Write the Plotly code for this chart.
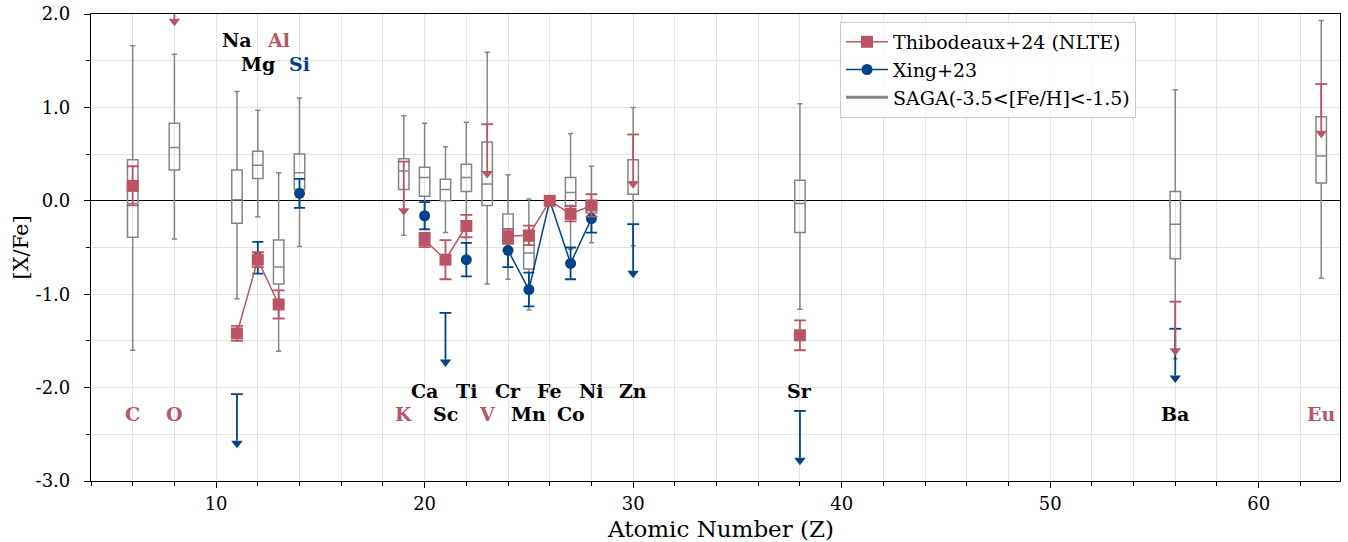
import plotly.graph_objects as go

# ---------------- data ----------------
elements = ['C', 'O', 'Na', 'Mg', 'Al', 'Si', 'K', 'Ca', 'Sc', 'Ti', 'V',
            'Cr', 'Mn', 'Fe', 'Co', 'Ni', 'Zn', 'Sr', 'Ba', 'Eu']
Z = [6, 8, 11, 12, 13, 14, 19, 20, 21, 22, 23, 24, 25, 26, 27, 28, 30, 38, 56, 63]

# Thibodeaux+24 (NLTE) detections
thib_el = ['C', 'Na', 'Mg', 'Al', 'Ca', 'Sc', 'Ti', 'Cr', 'Mn', 'Fe', 'Co', 'Ni', 'Sr']
thib_val = [0.16, -1.42, -0.63, -1.11, -0.42, -0.63, -0.27, -0.38, -0.37, 0.00, -0.14, -0.05, -1.44]
thib_err = [0.21, 0.08, 0.08, 0.15, 0.075, 0.21, 0.12, 0.08, 0.105, 0.00, 0.08, 0.12, 0.16]
# Thibodeaux+24 upper limits
thib_ul_el = ['O', 'K', 'V', 'Zn', 'Ba', 'Eu']
thib_ul_val = [2.45, 0.42, 0.82, 0.71, -1.08, 1.25]

# Xing+23 detections
xing_el = ['Mg', 'Si', 'Ca', 'Ti', 'Cr', 'Mn', 'Fe', 'Co', 'Ni']
xing_val = [-0.61, 0.08, -0.16, -0.63, -0.53, -0.95, 0.00, -0.67, -0.19]
xing_err = [0.17, 0.155, 0.145, 0.18, 0.18, 0.18, 0.00, 0.17, 0.15]
# Xing+23 upper limits
xing_ul_el = ['Na', 'Sc', 'Zn', 'Sr', 'Ba']
xing_ul_val = [-2.07, -1.20, -0.25, -2.25, -1.37]

# SAGA (-3.5<[Fe/H]<-1.5) distribution summary
saga_el = ['C', 'O', 'Na', 'Mg', 'Al', 'Si', 'K', 'Ca', 'Sc', 'Ti', 'V',
           'Cr', 'Mn', 'Co', 'Ni', 'Zn', 'Sr', 'Ba', 'Eu']
saga_low = [-1.60, -0.41, -1.05, -0.17, -1.61, -0.49, -0.37, -0.30, -0.34, -0.45, -0.89,
            -0.84, -1.17, -0.52, -0.45, -0.48, -1.16, -1.69, -0.83]
saga_q1 = [-0.39, 0.33, -0.24, 0.24, -0.89, 0.12, 0.12, 0.05, 0.00, 0.10, -0.05,
           -0.45, -0.73, -0.05, -0.13, 0.07, -0.34, -0.62, 0.19]
saga_med = [-0.03, 0.57, 0.01, 0.38, -0.71, 0.30, 0.32, 0.25, 0.12, 0.25, 0.18,
            -0.30, -0.56, 0.09, -0.06, 0.20, -0.03, -0.25, 0.48]
saga_q3 = [0.44, 0.83, 0.33, 0.53, -0.42, 0.50, 0.45, 0.36, 0.23, 0.39, 0.63,
           -0.14, -0.43, 0.25, -0.01, 0.44, 0.22, 0.10, 0.90]
saga_high = [1.66, 1.57, 1.17, 0.97, 0.30, 1.10, 0.91, 0.83, 0.58, 0.84, 1.59,
             0.28, 0.02, 0.72, 0.37, 1.00, 1.04, 1.19, 1.93]

x_ticks = [10, 20, 30, 40, 50, 60]
x_tick_labels = ['10', '20', '30', '40', '50', '60']
y_ticks = [-3, -2, -1, 0, 1, 2]
y_tick_labels = ['-3.0', '-2.0', '-1.0', '0.0', '1.0', '2.0']

# ---------------- styles / layout constants ----------------
RED = '#BB5566'
BLUE = '#004488'
GRAY = '#858585'
FONT = 'DejaVu Serif'
X_RANGE = [4.0, 63.9]
Y_RANGE = [-3.0, 2.0]
PLOT_H_PX = 467
ARROW_LEN = 0.5
TRI_SIZE = 10

zmap = dict(zip(elements, Z))


def full_series(els, vals, errs):
    """Series over every integer Z so that lines break at missing elements."""
    d = {zmap[e]: (v, er) for e, v, er in zip(els, vals, errs)}
    xs = list(range(min(Z), max(Z) + 1))
    ys = [d[z][0] if z in d else None for z in xs]
    es = [d[z][1] if z in d else 0 for z in xs]
    return xs, ys, es


fig = go.Figure()

# SAGA boxes
fig.add_trace(go.Box(
    x=[zmap[e] for e in saga_el], q1=saga_q1, median=saga_med, q3=saga_q3,
    lowerfence=saga_low, upperfence=saga_high,
    width=0.5, whiskerwidth=0.5, boxpoints=False,
    line=dict(color=GRAY, width=1.5), fillcolor='rgba(0,0,0,0)',
    showlegend=False, hoverinfo='skip'))
fig.add_trace(go.Scatter(x=[None], y=[None], mode='lines', line=dict(color=GRAY, width=3),
                         name='SAGA(-3.5<[Fe/H]<-1.5)', legendrank=3))


def add_limits(els, vals, color):
    zs = [zmap[e] for e in els]
    sx, sy = [], []
    for z, v in zip(zs, vals):
        sx += [z, z, None]
        sy += [v, v - ARROW_LEN, None]
    fig.add_trace(go.Scatter(x=sx, y=sy, mode='lines', line=dict(color=color, width=1.8),
                             showlegend=False, hoverinfo='skip'))
    fig.add_trace(go.Scatter(x=zs, y=vals, mode='markers',
                             marker=dict(symbol='line-ew', size=8.5,
                                         line=dict(color=color, width=1.8)),
                             showlegend=False, hoverinfo='skip'))
    off = (TRI_SIZE / 4.0) * (Y_RANGE[1] - Y_RANGE[0]) / PLOT_H_PX
    fig.add_trace(go.Scatter(x=zs, y=[v - ARROW_LEN - off for v in vals], mode='markers',
                             marker=dict(symbol='triangle-down', size=TRI_SIZE, color=color,
                                         line=dict(width=0)),
                             showlegend=False, hoverinfo='skip'))


# Xing+23
add_limits(xing_ul_el, xing_ul_val, BLUE)
xs, ys, es = full_series(xing_el, xing_val, xing_err)
fig.add_trace(go.Scatter(
    x=xs, y=ys, mode='lines+markers', connectgaps=False, name='Xing+23', legendrank=2,
    line=dict(color=BLUE, width=1.5),
    marker=dict(symbol='circle', size=11, color=BLUE, line=dict(width=0)),
    error_y=dict(type='data', array=es, symmetric=True, color=BLUE, thickness=1.8, width=5.5)))

# Thibodeaux+24
add_limits(thib_ul_el, thib_ul_val, RED)
xs, ys, es = full_series(thib_el, thib_val, thib_err)
fig.add_trace(go.Scatter(
    x=xs, y=ys, mode='lines+markers', connectgaps=False, name='Thibodeaux+24 (NLTE)',
    legendrank=1,
    line=dict(color=RED, width=1.5),
    marker=dict(symbol='square', size=12, color=RED, line=dict(width=0)),
    error_y=dict(type='data', array=es, symmetric=True, color=RED, thickness=1.8, width=6)))

# element labels
label_rows = {'t1': 1.72, 't2': 1.465, 'b1': -2.04, 'b2': -2.28}
label_slot = {'Na': 't1', 'Al': 't1', 'Mg': 't2', 'Si': 't2',
              'Ca': 'b1', 'Ti': 'b1', 'Cr': 'b1', 'Fe': 'b1', 'Ni': 'b1', 'Zn': 'b1', 'Sr': 'b1',
              'C': 'b2', 'O': 'b2', 'K': 'b2', 'Sc': 'b2', 'V': 'b2', 'Mn': 'b2', 'Co': 'b2',
              'Ba': 'b2', 'Eu': 'b2'}
thib_all = set(thib_el) | set(thib_ul_el)
xing_all = set(xing_el) | set(xing_ul_el)
for e in elements:
    if e in thib_all and e in xing_all:
        col = 'black'
    elif e in thib_all:
        col = RED
    else:
        col = BLUE
    fig.add_annotation(x=zmap[e], y=label_rows[label_slot[e]], text=e, showarrow=False,
                       xref='x', yref='y',
                       font=dict(family=FONT, size=19, color=col, weight='bold'))

# axis titles
fig.add_annotation(text='Atomic Number (Z)', xref='paper', yref='paper', x=0.504, y=-0.103,
                   xanchor='center', yanchor='middle', showarrow=False,
                   font=dict(family=FONT, size=23, color='black'))
fig.add_annotation(text='[X/Fe]', xref='paper', yref='paper', x=-0.0568, y=0.5,
                   xanchor='center', yanchor='middle', showarrow=False, textangle=-90,
                   font=dict(family=FONT, size=21, color='black'))

grid_col = '#e3e3e3'
fig.update_layout(
    width=1348, height=542,
    margin=dict(l=91, r=8, t=14, b=61, autoexpand=False),
    paper_bgcolor='white', plot_bgcolor='white',
    font=dict(family=FONT, size=18, color='black'),
    showlegend=True,
    legend=dict(x=0.5997, y=0.983, xanchor='left', yanchor='top',
                bgcolor='rgba(255,255,255,0.85)', bordercolor='#cccccc', borderwidth=1,
                itemwidth=42,
                font=dict(family=FONT, size=19)),
    xaxis=dict(range=X_RANGE, tickmode='array', tickvals=x_ticks, ticktext=x_tick_labels,
               automargin=False,
               ticks='outside', ticklen=6, tickwidth=1.2, tickcolor='black',
               showline=True, linecolor='black', linewidth=1.2, mirror=True,
               showgrid=True, gridcolor=grid_col, gridwidth=1, zeroline=False,
               tickfont=dict(family=FONT, size=18),
               minor=dict(tickmode='linear', tick0=0, dtick=2, ticks='outside', ticklen=3.5,
                          tickcolor='black', showgrid=True, gridcolor=grid_col, gridwidth=1)),
    yaxis=dict(range=Y_RANGE, tickmode='array', tickvals=y_ticks, ticktext=y_tick_labels,
               automargin=False,
               ticks='outside', ticklen=6, tickwidth=1.2, tickcolor='black',
               showline=True, linecolor='black', linewidth=1.2, mirror=True,
               showgrid=True, gridcolor=grid_col, gridwidth=1,
               zeroline=True, zerolinecolor='black', zerolinewidth=1.3,
               tickfont=dict(family=FONT, size=18), ticklabelstandoff=10,
               minor=dict(tickmode='linear', tick0=0, dtick=0.5, ticks='outside', ticklen=3.5,
                          tickcolor='black', showgrid=True, gridcolor=grid_col, gridwidth=1)),
)

fig.write_html('out.html', config={'displayModeBar': False},
               post_script="document.body.style.margin='0px';")
